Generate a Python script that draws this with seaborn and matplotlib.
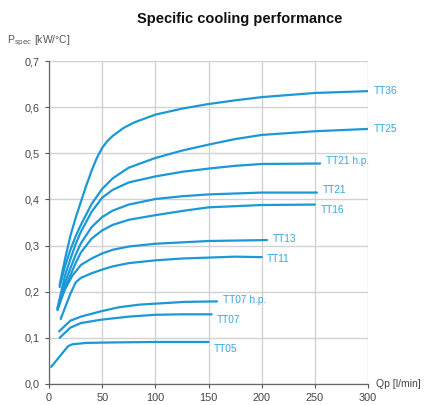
import matplotlib
matplotlib.use("Agg")
import matplotlib.pyplot as plt
import seaborn as sns
import pandas as pd

# ---- data ----
series_names = ["TT36", "TT25", "TT21 h.p.", "TT21", "TT16", "TT13", "TT11", "TT07 h.p.", "TT07", "TT05"]

tt36_x = [10, 15, 20, 25, 30, 35, 40, 45, 50, 55, 60, 70, 80, 100, 125, 150, 175, 200, 250, 300]
tt36_y = [0.215, 0.27, 0.32, 0.36, 0.395, 0.43, 0.462, 0.49, 0.512, 0.527, 0.538, 0.555, 0.567, 0.584, 0.597, 0.607, 0.615, 0.622, 0.631, 0.635]

tt25_x = [10, 15, 20, 25, 30, 40, 50, 60, 75, 100, 125, 150, 175, 200, 250, 300]
tt25_y = [0.21, 0.255, 0.29, 0.32, 0.345, 0.39, 0.423, 0.446, 0.469, 0.49, 0.506, 0.519, 0.531, 0.540, 0.548, 0.553]

tt21hp_x = [8, 15, 20, 25, 30, 40, 50, 60, 75, 100, 125, 150, 175, 200, 255]
tt21hp_y = [0.165, 0.235, 0.27, 0.303, 0.33, 0.373, 0.404, 0.421, 0.437, 0.45, 0.46, 0.467, 0.473, 0.477, 0.478]

tt21_x = [8, 15, 20, 25, 30, 40, 50, 60, 75, 100, 125, 150, 200, 252]
tt21_y = [0.163, 0.22, 0.25, 0.28, 0.305, 0.34, 0.362, 0.376, 0.389, 0.401, 0.407, 0.411, 0.415, 0.415]

tt16_x = [8, 15, 20, 25, 30, 40, 50, 60, 75, 100, 125, 150, 200, 250]
tt16_y = [0.16, 0.21, 0.235, 0.262, 0.285, 0.315, 0.333, 0.345, 0.356, 0.366, 0.375, 0.383, 0.388, 0.389]

tt13_x = [8, 15, 22, 30, 40, 50, 60, 75, 100, 125, 150, 205]
tt13_y = [0.163, 0.205, 0.235, 0.258, 0.272, 0.283, 0.291, 0.298, 0.304, 0.307, 0.31, 0.312]

tt11_x = [11, 20, 25, 30, 40, 50, 60, 75, 100, 125, 150, 175, 200]
tt11_y = [0.141, 0.195, 0.22, 0.23, 0.24, 0.248, 0.255, 0.262, 0.268, 0.272, 0.274, 0.276, 0.275]

tt07hp_x = [9.5, 20, 30, 48, 65, 85, 128, 158]
tt07hp_y = [0.114, 0.137, 0.146, 0.157, 0.166, 0.172, 0.178, 0.179]

tt07_x = [10, 20, 30, 48, 75, 100, 125, 153]
tt07_y = [0.100, 0.122, 0.132, 0.139, 0.146, 0.15, 0.151, 0.151]

tt05_x = [2, 18, 22, 35, 60, 100, 150]
tt05_y = [0.037, 0.082, 0.086, 0.089, 0.09, 0.091, 0.091]

x_ticks = [0, 50, 100, 150, 200, 250, 300]
y_ticks = [0.0, 0.1, 0.2, 0.3, 0.4, 0.5, 0.6, 0.7]
y_tick_labels = ["0,0", "0,1", "0,2", "0,3", "0,4", "0,5", "0,6", "0,7"]

all_x = [tt36_x, tt25_x, tt21hp_x, tt21_x, tt16_x, tt13_x, tt11_x, tt07hp_x, tt07_x, tt05_x]
all_y = [tt36_y, tt25_y, tt21hp_y, tt21_y, tt16_y, tt13_y, tt11_y, tt07hp_y, tt07_y, tt05_y]

rows = []
for name, xs, ys in zip(series_names, all_x, all_y):
    for xv, yv in zip(xs, ys):
        rows.append({"series": name, "Qp": xv, "P": yv})
df = pd.DataFrame(rows)

# ---- style ----
sns.set_theme(style="white")
plt.rcParams["font.family"] = ["Liberation Sans", "DejaVu Sans"]

line_color = "#1b98d5"
label_color = "#35a6dc"
grid_color = "#d2d2d2"
text_grey = "#555555"

fig = plt.figure(figsize=(4.25, 4.05), dpi=100)
ax = fig.add_axes([0.1153, 0.052, 0.7506, 0.797])

sns.lineplot(data=df, x="Qp", y="P", hue="series", hue_order=series_names,
             palette=[line_color] * len(series_names), sort=False,
             estimator=None, linewidth=1.6, legend=False, ax=ax)

# labels at series ends
label_dy = [0, 0, 2, 2, -4, 1, -1, 1, -4, -5]  # points
for name, xs, ys, dy in zip(series_names, all_x, all_y, label_dy):
    ax.annotate(name, xy=(xs[-1], ys[-1]), xytext=(4, dy), textcoords="offset points",
                va="center", ha="left", fontsize=7.3, color=label_color, clip_on=False)

ax.set_xlim(0, 300)
ax.set_ylim(0, 0.7)
ax.set_xticks(x_ticks)
ax.set_xticklabels([str(t) for t in x_ticks])
ax.set_yticks(y_ticks)
ax.set_yticklabels(y_tick_labels)
ax.grid(True, color=grid_color, linewidth=1.0)
ax.set_axisbelow(True)
for side in ["top", "right"]:
    ax.spines[side].set_visible(False)
for side in ["left", "bottom"]:
    ax.spines[side].set_color("#666666")
    ax.spines[side].set_linewidth(0.9)
ax.tick_params(axis="both", which="both", labelsize=7.8, colors=text_grey,
               length=3, width=0.8, direction="out", left=True, bottom=True)
ax.tick_params(axis="both", labelcolor="#444444")
ax.set_xlabel("")
ax.set_ylabel("")

fig.text(0.565, 0.952, "Specific cooling performance", ha="center", va="center",
         fontsize=10.5, fontweight="bold", color="#111111")
fig.text(0.016, 0.9, "P$_\\mathrm{spec}$ [kW/°C]", ha="left", va="center",
         fontsize=7.5, color=text_grey)
fig.text(0.885, 0.052, "Qp [l/min]", ha="left", va="center",
         fontsize=7.5, color="#444444")

fig.savefig("out.png", dpi=100)
